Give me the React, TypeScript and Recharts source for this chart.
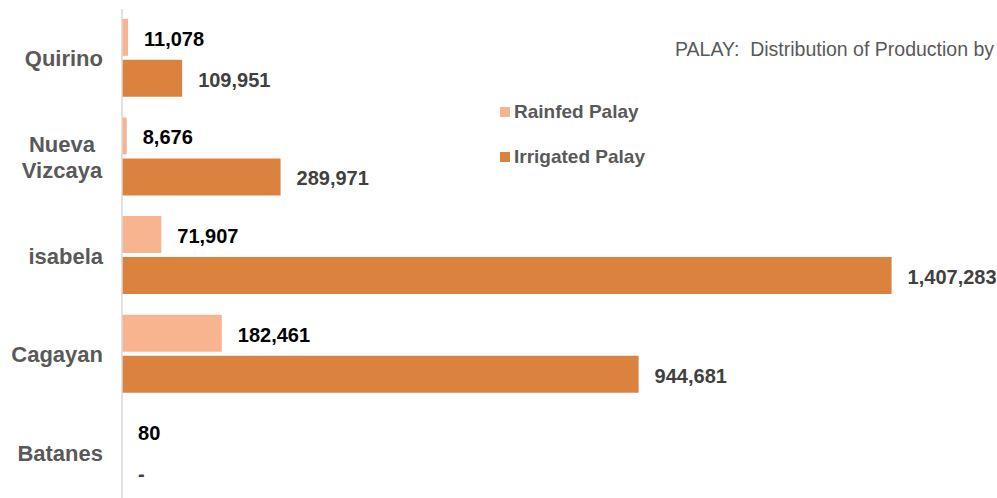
import { BarChart, Bar, XAxis, YAxis, LabelList } from "recharts";

const provinces = ["Quirino", "Nueva Vizcaya", "isabela", "Cagayan", "Batanes"];
const rainfed = [11078, 8676, 71907, 182461, 80];
const irrigated = [109951, 289971, 1407283, 944681, 0];

const seriesNames = ["Rainfed Palay", "Irrigated Palay"];
const seriesColors = ["#f8b48f", "#db823f"];
const title = "PALAY:  Distribution of Production by";

const data = provinces.map((name, i) => ({
  name,
  rainfed: rainfed[i],
  irrigated: irrigated[i],
}));

const FONT = "'Liberation Sans', Arial, sans-serif";

const fmt = (v: number) => (v === 0 ? "-" : v.toLocaleString("en-US"));

function CategoryTick(props: any) {
  const { y, payload } = props;
  const words: string[] = String(payload.value).split(" ");
  if (words.length > 1) {
    return (
      <text
        x={62}
        y={y}
        textAnchor="middle"
        fontFamily={FONT}
        fontWeight="bold"
        fontSize={22}
        fill="#595959"
      >
        {words.map((w, i) => (
          <tspan key={w} x={62} dy={i === 0 ? -5 : 26}>
            {w}
          </tspan>
        ))}
      </text>
    );
  }
  return (
    <text
      x={103}
      y={y}
      dy={8}
      textAnchor="end"
      fontFamily={FONT}
      fontWeight="bold"
      fontSize={22}
      fill="#595959"
    >
      {payload.value}
    </text>
  );
}

function valueLabel(color: string) {
  return (props: any) => {
    const { x, y, width, height, value } = props;
    return (
      <text
        x={x + (width || 0) + 16}
        y={y + (height || 0) / 2 + 1.5}
        dominantBaseline="central"
        fontFamily={FONT}
        fontWeight="bold"
        fontSize={20}
        fill={color}
      >
        {fmt(value)}
      </text>
    );
  };
}

export default function App() {
  return (
    <div
      style={{
        position: "absolute",
        left: 0,
        top: 0,
        width: 997,
        height: 498,
        overflow: "hidden",
        background: "#fff",
      }}
    >
      <div
        style={{
          position: "absolute",
          left: 675,
          top: 38,
          whiteSpace: "pre",
          fontFamily: FONT,
          fontSize: 19.5,
          color: "#595959",
        }}
      >
        {title}
      </div>
      <div style={{ position: "absolute", left: 500, top: 89, fontFamily: FONT, zIndex: 2 }}>
        {seriesNames.map((n, i) => (
          <div
            key={n}
            style={{
              display: "flex",
              alignItems: "center",
              height: 45,
              fontSize: 19,
              fontWeight: "bold",
              color: "#595959",
            }}
          >
            <span
              style={{
                width: 10,
                height: 10,
                background: seriesColors[i],
                marginRight: 4,
                display: "inline-block",
              }}
            />
            {n}
          </div>
        ))}
      </div>
      <BarChart
        width={997}
        height={502}
        data={data}
        layout="vertical"
        margin={{ top: 9, right: 0, bottom: 0, left: 0 }}
        barCategoryGap="10%"
        barGap={4}
      >
        <XAxis type="number" domain={[0, 1600000]} hide />
        <YAxis
          type="category"
          dataKey="name"
          width={122}
          axisLine={{ stroke: "#d9d9d9", strokeWidth: 1.5 }}
          tickLine={false}
          tick={<CategoryTick />}
          interval={0}
        />
        <Bar
          dataKey="rainfed"
          name={seriesNames[0]}
          fill={seriesColors[0]}
          isAnimationActive={false}
        >
          <LabelList dataKey="rainfed" content={valueLabel("#000000")} />
        </Bar>
        <Bar
          dataKey="irrigated"
          name={seriesNames[1]}
          fill={seriesColors[1]}
          minPointSize={0.01}
          isAnimationActive={false}
        >
          <LabelList dataKey="irrigated" content={valueLabel("#404040")} />
        </Bar>
      </BarChart>
    </div>
  );
}
